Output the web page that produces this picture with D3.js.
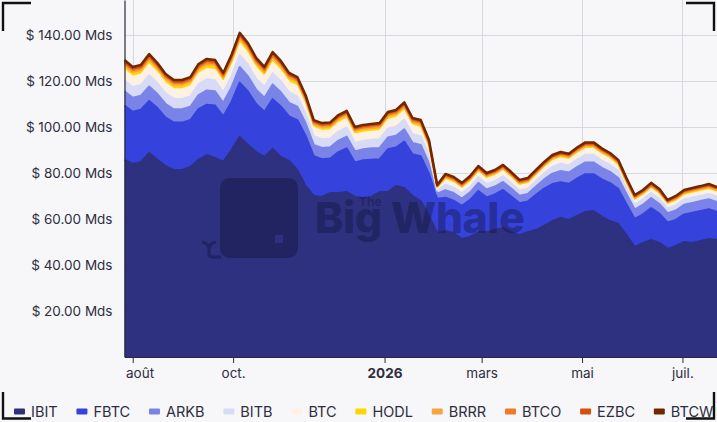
<!DOCTYPE html>
<html>
<head>
<meta charset="utf-8">
<script src="https://cdn.jsdelivr.net/npm/d3@7"></script>
<style>
  html, body { margin: 0; padding: 0; background: #f7f7f9; }
  svg { display: block; font-family: Inter, "Noto Sans", "DejaVu Sans", sans-serif; }
</style>
</head>
<body>
<div class="chart"></div>
<script>
// ETF names, bottom of the stack first
var names = ["IBIT", "FBTC", "ARKB", "BITB", "BTC", "HODL", "BRRR", "BTCO", "EZBC", "BTCW"];
var colors = ["#2d3180", "#3543dc", "#7a84e8", "#d7dbf7", "#fdf1e4", "#fcd700", "#f8a340", "#f07a28", "#d3500f", "#712700"];

var tickDates = [new Date(2025, 7, 1), new Date(2025, 9, 1), new Date(2026, 0, 1),
                 new Date(2026, 2, 1), new Date(2026, 4, 1), new Date(2026, 6, 1)];
var tickLabels = ["août", "oct.", "2026", "mars", "mai", "juil."];
var yTicks = [20, 40, 60, 80, 100, 120, 140];

// one point every 5 days, 27 juil. 2025 -> 22 juil. 2026 (73 points)
var dates = d3.timeDay.range(new Date(2025, 6, 27), new Date(2026, 6, 23), 5);

// assets in billions of dollars (Mds)
var ibit = [
  85.7, 83.9, 84.8, 88.7, 85.7, 83.0, 81.3, 81.3, 82.6, 85.7,
  87.8, 86.5, 84.8, 90.0, 95.7, 92.2, 89.1, 87.0, 90.4, 87.0,
  85.2, 81.3, 74.3, 70.0, 69.6, 71.3, 71.3, 71.7, 69.6, 69.1,
  69.6, 71.7, 71.7, 74.3, 73.5, 70.0, 67.8, 61.3, 53.9, 54.8,
  53.9, 51.3, 52.2, 54.2, 54.3, 55.2, 56.1, 54.3, 53.0, 54.3,
  55.2, 57.0, 59.1, 60.4, 59.6, 61.3, 63.0, 63.5, 60.9, 59.1,
  57.8, 53.0, 47.8, 49.6, 50.9, 49.6, 47.0, 48.3, 50.0, 49.6,
  50.4, 51.3, 50.9];
var fbtc = [
  23.6, 22.7, 22.7, 22.6, 22.5, 21.1, 20.6, 20.6, 20.4, 22.1,
  21.9, 22.8, 19.8, 20.9, 23.6, 23.2, 20.9, 19.6, 21.7, 21.9,
  19.4, 21.7, 21.9, 17.3, 16.4, 15.0, 17.8, 19.0, 15.0, 16.4,
  16.2, 14.3, 18.6, 16.8, 20.2, 18.1, 19.5, 18.4, 14.9, 14.4,
  14.1, 14.4, 16.1, 18.0, 15.1, 15.5, 16.5, 15.5, 13.9, 13.3,
  15.3, 16.2, 16.1, 15.6, 15.7, 16.3, 16.5, 16.0, 16.3, 16.5,
  15.3, 13.4, 12.2, 12.4, 13.8, 12.7, 11.5, 11.3, 12.0, 13.1,
  13.1, 12.9, 12.2];
var arkb = [
  6.2, 6.1, 6.1, 6.3, 6.1, 5.9, 5.8, 5.8, 5.8, 6.1,
  6.2, 6.2, 5.9, 6.3, 6.8, 6.6, 6.2, 6.1, 6.4, 6.2,
  5.9, 5.8, 5.5, 4.9, 4.9, 4.9, 5.0, 5.1, 4.8, 4.8,
  4.9, 4.9, 5.1, 5.1, 5.3, 5.0, 4.9, 4.5, 2.2, 3.3,
  3.3, 3.2, 3.3, 3.5, 3.4, 3.4, 3.5, 3.4, 3.2, 3.3,
  3.6, 4.0, 4.5, 4.9, 4.9, 5.0, 5.1, 5.1, 5.0, 4.9,
  4.7, 4.5, 4.1, 4.2, 4.4, 4.2, 4.0, 4.1, 4.2, 4.3,
  4.3, 4.4, 4.3];
var bitb = [
  4.8, 4.7, 4.7, 4.9, 4.7, 4.6, 4.5, 4.5, 4.5, 4.7,
  4.8, 4.8, 4.6, 4.9, 5.2, 5.1, 4.8, 4.7, 4.9, 4.8,
  4.6, 4.5, 4.2, 3.8, 3.8, 3.8, 3.9, 4.0, 3.7, 3.7,
  3.7, 3.8, 3.9, 4.0, 4.1, 3.8, 3.8, 3.5, 1.4, 2.4,
  2.3, 2.3, 2.4, 2.5, 2.4, 2.4, 2.5, 2.4, 2.3, 2.3,
  2.4, 2.7, 3.0, 3.1, 3.1, 3.2, 3.3, 3.3, 3.2, 3.1,
  3.0, 2.4, 2.2, 2.3, 2.3, 2.3, 2.1, 2.2, 2.3, 2.3,
  2.3, 2.3, 2.3];
var btc = [
  4.5, 4.4, 4.4, 4.6, 4.5, 4.3, 4.2, 4.2, 4.3, 4.5,
  4.5, 4.5, 4.3, 4.6, 4.9, 4.8, 4.6, 4.4, 4.6, 4.5,
  4.3, 4.3, 4.0, 3.6, 3.6, 3.6, 3.7, 3.7, 3.5, 3.5,
  3.5, 3.6, 3.7, 3.7, 3.9, 3.6, 3.6, 3.3, 1.0, 2.1,
  2.1, 2.0, 2.1, 2.2, 2.2, 2.2, 2.3, 2.2, 2.1, 2.1,
  2.2, 2.3, 2.4, 2.4, 2.4, 2.5, 2.5, 2.5, 2.5, 2.4,
  2.3, 1.9, 1.7, 1.7, 1.8, 1.8, 1.6, 1.7, 1.7, 1.8,
  1.8, 1.8, 1.8];
var hodl = [
  1.5, 1.5, 1.5, 1.6, 1.5, 1.5, 1.4, 1.4, 1.5, 1.5,
  1.6, 1.5, 1.5, 1.6, 1.7, 1.6, 1.6, 1.5, 1.6, 1.5,
  1.5, 1.5, 1.4, 1.2, 1.2, 1.2, 1.3, 1.3, 1.2, 1.2,
  1.2, 1.2, 1.3, 1.3, 1.3, 1.2, 1.2, 1.1, 0.5, 0.9,
  0.9, 0.8, 0.9, 0.9, 0.9, 0.9, 0.9, 0.9, 0.8, 0.8,
  0.9, 0.9, 1.0, 1.0, 1.0, 1.0, 1.0, 1.0, 1.0, 1.0,
  0.9, 0.9, 0.8, 0.8, 0.8, 0.8, 0.8, 0.8, 0.8, 0.8,
  0.8, 0.8, 0.8];
var brrr = [
  0.6, 0.6, 0.6, 0.7, 0.6, 0.6, 0.6, 0.6, 0.6, 0.6,
  0.6, 0.6, 0.6, 0.7, 0.7, 0.7, 0.6, 0.6, 0.7, 0.6,
  0.6, 0.6, 0.6, 0.5, 0.5, 0.5, 0.5, 0.5, 0.5, 0.5,
  0.5, 0.5, 0.5, 0.5, 0.5, 0.5, 0.5, 0.5, 0.2, 0.4,
  0.4, 0.4, 0.4, 0.4, 0.4, 0.4, 0.4, 0.4, 0.4, 0.4,
  0.4, 0.4, 0.4, 0.4, 0.4, 0.4, 0.4, 0.4, 0.4, 0.4,
  0.4, 0.4, 0.4, 0.4, 0.4, 0.4, 0.3, 0.4, 0.4, 0.4,
  0.4, 0.4, 0.4];
var btco = [
  0.8, 0.8, 0.8, 0.8, 0.8, 0.7, 0.7, 0.7, 0.7, 0.8,
  0.8, 0.8, 0.7, 0.8, 0.8, 0.8, 0.8, 0.8, 0.8, 0.8,
  0.7, 0.7, 0.7, 0.6, 0.6, 0.6, 0.6, 0.6, 0.6, 0.6,
  0.6, 0.6, 0.6, 0.6, 0.7, 0.6, 0.6, 0.6, 0.2, 0.4,
  0.4, 0.4, 0.4, 0.4, 0.4, 0.4, 0.4, 0.4, 0.4, 0.4,
  0.4, 0.4, 0.4, 0.4, 0.4, 0.5, 0.5, 0.5, 0.5, 0.4,
  0.4, 0.4, 0.4, 0.4, 0.4, 0.4, 0.3, 0.4, 0.4, 0.4,
  0.4, 0.4, 0.4];
var ezbc = [
  0.6, 0.6, 0.6, 0.7, 0.6, 0.6, 0.6, 0.6, 0.6, 0.6,
  0.6, 0.6, 0.6, 0.7, 0.7, 0.7, 0.6, 0.6, 0.7, 0.6,
  0.6, 0.6, 0.6, 0.5, 0.5, 0.5, 0.5, 0.5, 0.5, 0.5,
  0.5, 0.5, 0.5, 0.5, 0.5, 0.5, 0.5, 0.5, 0.2, 0.4,
  0.4, 0.4, 0.4, 0.4, 0.4, 0.4, 0.4, 0.4, 0.4, 0.4,
  0.4, 0.4, 0.4, 0.4, 0.4, 0.4, 0.4, 0.4, 0.4, 0.4,
  0.4, 0.4, 0.4, 0.4, 0.4, 0.4, 0.3, 0.4, 0.4, 0.4,
  0.4, 0.4, 0.4];
var btcw = [
  0.8, 0.8, 0.8, 0.8, 0.8, 0.7, 0.7, 0.7, 0.7, 0.8,
  0.8, 0.8, 0.7, 0.8, 0.8, 0.8, 0.8, 0.8, 0.8, 0.8,
  0.7, 0.7, 0.7, 0.6, 0.6, 0.6, 0.6, 0.6, 0.6, 0.6,
  0.6, 0.6, 0.6, 0.6, 0.7, 0.6, 0.6, 0.6, 0.3, 0.5,
  0.5, 0.5, 0.5, 0.5, 0.5, 0.5, 0.5, 0.5, 0.5, 0.5,
  0.5, 0.5, 0.5, 0.5, 0.5, 0.5, 0.6, 0.6, 0.5, 0.5,
  0.5, 0.5, 0.4, 0.4, 0.5, 0.4, 0.4, 0.4, 0.4, 0.4,
  0.4, 0.5, 0.4];

var series = [ibit, fbtc, arkb, bitb, btc, hodl, brrr, btco, ezbc, btcw];

var width = 717,
    height = 422,
    plot_left = 124.5,
    plot_right = 717,
    plot_top = 0,
    plot_bottom = 357;

var rows = dates.map(function(d, i) {
  var r = { date: d };
  names.forEach(function(n, j) { r[n] = series[j][i]; });
  return r;
});
var stacked = d3.stack().keys(names)(rows);

var x = d3.scaleTime()
    .domain([dates[0], dates[dates.length - 1]])
    .range([plot_left, plot_right]);
var y = d3.scaleLinear()
    .domain([0, 155.2])
    .range([plot_bottom, plot_top]);

var svg = d3.select(".chart").append("svg")
    .attr("width", width)
    .attr("height", height);

svg.append("rect")
    .attr("width", width).attr("height", height)
    .attr("fill", "#f7f7f9");

// grid
svg.append("g").selectAll("line").data(yTicks).join("line")
    .attr("x1", plot_left).attr("x2", plot_right)
    .attr("y1", function(d) { return y(d) + 0.5; })
    .attr("y2", function(d) { return y(d) + 0.5; })
    .attr("stroke", "#d8d8e0");
svg.append("g").selectAll("line").data(tickDates).join("line")
    .attr("x1", function(d) { return Math.round(x(d)) + 0.5; })
    .attr("x2", function(d) { return Math.round(x(d)) + 0.5; })
    .attr("y1", plot_top).attr("y2", plot_bottom)
    .attr("stroke", "#d8d8e0");

// stacked areas
var area = d3.area()
    .x(function(d) { return x(d.data.date); })
    .y0(function(d) { return y(d[0]); })
    .y1(function(d) { return y(d[1]); });
var line = d3.line()
    .x(function(d) { return x(d.data.date); })
    .y(function(d) { return y(d[1]); });

svg.append("g").selectAll("path").data(stacked).join("path")
    .attr("d", area)
    .attr("fill", function(d, i) { return colors[i]; });
svg.append("g").selectAll("path").data(stacked).join("path")
    .attr("d", line)
    .attr("fill", "none")
    .attr("stroke", function(d, i) { return colors[i]; })
    .attr("stroke-width", function(d, i) { return i === names.length - 1 ? 2.5 : 2; })
    .attr("stroke-linejoin", "round");

// watermark
var wm = svg.append("g").attr("fill", "#14143a").attr("fill-opacity", 0.42);
wm.append("path")
    .attr("fill-rule", "evenodd")
    .attr("d", "M231,178 H287 Q298,178 298,189 V247 Q298,258 287,258 H231 Q220,258 220,247 V189 Q220,178 231,178 Z M275,235 H283 V243 H275 Z");
wm.append("path")
    .attr("fill", "none")
    .attr("stroke", "#14143a").attr("stroke-opacity", 0.42)
    .attr("stroke-width", 3)
    .attr("d", "M202,242 Q209,243 209,250 Q209,243 216,242 M209,250 V254 Q209,257 213,257 H221");
var wmText = wm.append("text").attr("font-weight", 800);
wmText.append("tspan")
    .attr("x", 359).attr("y", 206)
    .attr("font-size", 12).attr("font-weight", 700)
    .text("The");
wmText.append("tspan")
    .attr("x", 315).attr("y", 233)
    .attr("font-size", 43)
    .attr("letter-spacing", -0.5)
    .text("Big Whale");

// axes
var xAxis = svg.append("g")
    .attr("transform", "translate(0," + plot_bottom + ")")
    .call(d3.axisBottom(x)
        .tickValues(tickDates)
        .tickFormat(function(d, i) { return tickLabels[i]; })
        .tickSize(6).tickSizeOuter(0).tickPadding(5));
xAxis.selectAll("text")
    .attr("font-size", 13.5)
    .attr("font-family", "Inter, sans-serif")
    .attr("fill", "#2e2e40")
    .attr("font-weight", function(d, i) { return i === 2 ? 700 : 400; })
    .each(function() {
      var b = this.getBBox();
      var tx = d3.select(this.parentNode).attr("transform").match(/translate\(([-\d.]+)/);
      var left = +tx[1] + b.x;
      if (left < plot_left + 1) d3.select(this).attr("x", plot_left + 1.5 - left);
    });
xAxis.selectAll("line").attr("stroke", "#2a2a3a");
xAxis.select(".domain").attr("stroke", "#2a2a3a");

var yAxis = svg.append("g")
    .attr("transform", "translate(" + plot_left + ",0)")
    .call(d3.axisLeft(y)
        .tickValues(yTicks)
        .tickFormat(function(d) { return "$ " + d3.format(".2f")(d) + " Mds"; })
        .tickSize(0).tickSizeOuter(0).tickPadding(12));
yAxis.selectAll("text")
    .attr("font-size", 13.5)
    .attr("font-family", "Inter, sans-serif")
    .attr("fill", "#2e2e40");
yAxis.select(".domain").attr("stroke", "#2a2a3a").attr("stroke-width", 1.2);

// legend
var legend = svg.append("g").attr("transform", "translate(0,411.5)");
var lx = 14;
names.forEach(function(n, i) {
  legend.append("rect")
      .attr("x", lx).attr("y", -3)
      .attr("width", 11).attr("height", 6)
      .attr("rx", 1)
      .attr("fill", colors[i]);
  var t = legend.append("text")
      .attr("x", lx + 17).attr("dy", "0.36em")
      .attr("font-size", 14.5)
      .attr("fill", "#2e2e40")
      .text(n);
  lx = lx + 17 + t.node().getComputedTextLength() + 18.8;
});

// corner brackets
svg.append("path")
    .attr("fill", "none")
    .attr("stroke", "#111")
    .attr("stroke-width", 2.4)
    .attr("d", "M3,31 V3 H31 M686,3 H714 V31 M3,392 V418.5 H31 M686,418.5 H714 V392");
</script>
</body>
</html>
